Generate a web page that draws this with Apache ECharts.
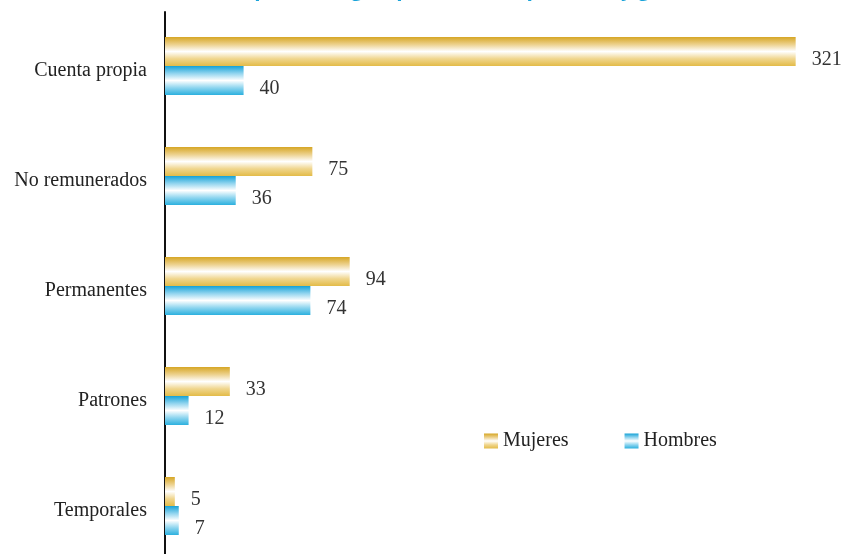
<!DOCTYPE html>
<html>
<head>
<meta charset="utf-8">
<script src="https://cdn.jsdelivr.net/npm/echarts@6/dist/echarts.min.js"></script>
<style>
  html, body { margin: 0; padding: 0; background: #fff; }
  #chart1 { width: 844px; height: 554px; }
</style>
</head>
<body>
<div id="chart1"></div>
<script>
const categories = ['Cuenta propia', 'No remunerados', 'Permanentes', 'Patrones', 'Temporales']
const mujeres = [321, 75, 94, 33, 5]
const hombres = [40, 36, 74, 12, 7]

let dom = document.getElementById("chart1")
let myChart = echarts.init(dom)

const serif = '"Liberation Serif", "DejaVu Serif", serif'
const gold = new echarts.graphic.LinearGradient(0, 0, 0, 1, [
    { offset: 0, color: '#d6a624' },
    { offset: 0.25, color: '#ecd08a' },
    { offset: 0.5, color: '#ffffff' },
    { offset: 0.75, color: '#f0d68e' },
    { offset: 1, color: '#e3bb48' }
])
const blue = new echarts.graphic.LinearGradient(0, 0, 0, 1, [
    { offset: 0, color: '#16a2d6' },
    { offset: 0.25, color: '#8ed3ee' },
    { offset: 0.5, color: '#ffffff' },
    { offset: 0.75, color: '#8ed5ef' },
    { offset: 1, color: '#2cb0de' }
])

const valueLabel = {
    show: true,
    position: 'right',
    distance: 16,
    offset: [0, 8],
    fontFamily: serif,
    fontSize: 20,
    color: '#333'
}

var option = {
    animation: false,
    title: {
        text: 'Ocupados, según posición ocupacional y género',
        left: 208,
        top: -25,
        textStyle: {
            color: '#1aa3d9',
            fontSize: 21,
            fontWeight: 'bold',
            fontFamily: '"Open Sans", sans-serif'
        }
    },
    legend: {
        left: 479,
        top: 426,
        icon: 'rect',
        itemWidth: 14,
        itemHeight: 15,
        itemGap: 56,
        textStyle: { fontFamily: serif, fontSize: 20, color: '#222' },
        data: ['Mujeres', 'Hombres']
    },
    grid: [
        // bars: category centres from first to last band
        { left: 165, top: 66, right: 11, bottom: 48 },
        // only carries the long vertical axis line
        { left: 165, top: 12, width: 10, bottom: 0 }
    ],
    xAxis: [
        { type: 'value', min: 0, max: 340, show: false, gridIndex: 0 },
        { type: 'value', show: false, gridIndex: 1 }
    ],
    yAxis: [
        {
            type: 'category',
            gridIndex: 0,
            inverse: true,
            boundaryGap: false,
            data: categories,
            axisLine: { show: false },
            axisTick: { show: false },
            splitLine: { show: false },
            axisLabel: {
                margin: 18,
                fontFamily: serif,
                fontSize: 20,
                color: '#222',
                verticalAlign: 'top',
                lineHeight: 9
            }
        },
        {
            type: 'value',
            gridIndex: 1,
            axisLine: { show: true, lineStyle: { color: '#111', width: 2 } },
            axisTick: { show: false },
            axisLabel: { show: false },
            splitLine: { show: false }
        }
    ],
    series: [
        {
            name: 'Mujeres',
            type: 'bar',
            data: mujeres,
            barWidth: 29,
            barGap: '0%',
            itemStyle: { color: gold },
            label: valueLabel
        },
        {
            name: 'Hombres',
            type: 'bar',
            data: hombres,
            barWidth: 29,
            barGap: '0%',
            itemStyle: { color: blue },
            label: valueLabel
        }
    ]
}
myChart.setOption(option)
</script>
</body>
</html>
